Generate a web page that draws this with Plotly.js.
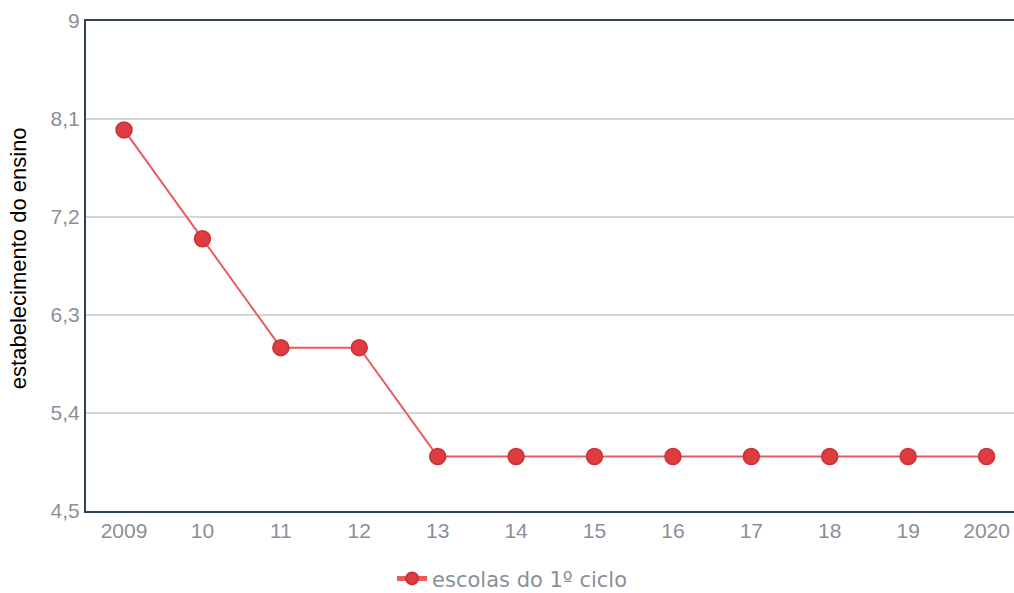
<!DOCTYPE html>
<html>
<head>
<meta charset="utf-8">
<script src="https://cdn.plot.ly/plotly-3.0.1.min.js"></script>
<style>html,body{margin:0;padding:0;background:#fff;}#chart{width:1014px;height:593px;}</style>
</head>
<body>
<div id="chart"></div>
<script>
const years = ["2009","10","11","12","13","14","15","16","17","18","19","2020"];
const escolas = [8, 7, 6, 6, 5, 5, 5, 5, 5, 5, 5, 5];
const yTicks = [4.5, 5.4, 6.3, 7.2, 8.1, 9];
const yTickText = ["4,5", "5,4", "6,3", "7,2", "8,1", "9"];
const seriesName = "escolas do 1º ciclo";
const yTitle = "estabelecimento do ensino";

const trace = {
  x: years, y: escolas, name: seriesName, type: "scatter", mode: "lines+markers",
  line: {color: "#ea5a5c", width: 2},
  marker: {color: "#de3c40", size: 16, line: {color: "#c93236", width: 1.5}}
};
const layout = {
  width: 1014, height: 593,
  margin: {l: 86, r: 0, t: 21, b: 82},
  paper_bgcolor: "#fff", plot_bgcolor: "#fff",
  showlegend: true,
  legend: {orientation: "h", x: 0.505, xref: "container", xanchor: "center",
    y: 0.024, yref: "container", yanchor: "middle", itemsizing: "constant",
    font: {family: "DejaVu Sans, Verdana, sans-serif", size: 21, color: "#8a8f99"}},
  xaxis: {type: "category", range: [-0.485, 11.35], showgrid: false, zeroline: false,
    showline: true, mirror: true, linecolor: "#2f4256", linewidth: 2, ticks: "",
    automargin: false,
    tickfont: {family: "Liberation Sans, Arial, sans-serif", size: 21, color: "#8a8f99"}},
  yaxis: {range: [4.5, 9], tickvals: yTicks, ticktext: yTickText, showgrid: true,
    gridcolor: "#d6d6d6", gridwidth: 1.5, zeroline: false, showline: true,
    linecolor: "#2f4256", linewidth: 2, ticks: "", automargin: false,
    tickfont: {family: "Liberation Sans, Arial, sans-serif", size: 21, color: "#8a8f99"}},
  annotations: [{text: yTitle, textangle: -90, xref: "paper", yref: "paper",
    x: -0.0733, y: 0.516, xanchor: "center", yanchor: "middle", showarrow: false,
    font: {family: "Liberation Sans, Arial, sans-serif", size: 22, color: "#000"}}]
};
Plotly.newPlot("chart", [trace], layout, {displayModeBar: false, staticPlot: true});
</script>
</body>
</html>
